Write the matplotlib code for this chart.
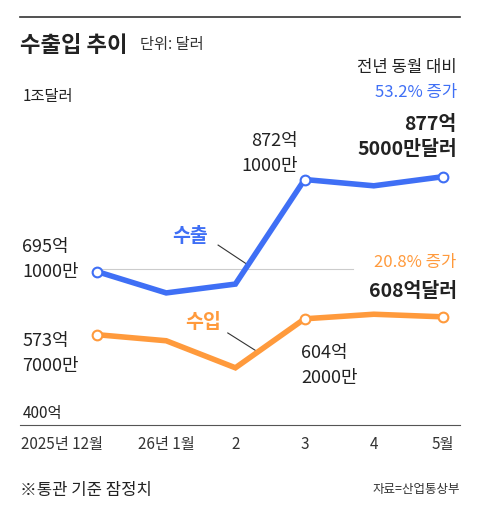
import matplotlib.pyplot as plt

plt.rcParams['font.family'] = ['Noto Sans CJK KR', 'DejaVu Sans']

months = ['2025년 12월', '26년 1월', '2', '3', '4', '5월']
export = [695.1, 654, 671, 872.1, 860, 877.5]
imports = [573.7, 562, 510, 604.2, 613, 608]

blue = '#3f6ff5'
orange = '#ff9a3c'

fig = plt.figure(figsize=(4.8, 5.2), dpi=100)
ax = fig.add_axes([20/480, 95/520, 440/480, 312/520])
x = list(range(len(months)))
ax.set_xlim(-77/69.2, 5 + 17/69.2)
ax.set_ylim(400, 1000)

ax.plot([0, 3.7], [700, 700], color='#cccccc', lw=0.8)

ax.plot(x, export, color=blue, lw=4, solid_joinstyle='miter', zorder=3)
ax.plot(x, imports, color=orange, lw=4, solid_joinstyle='miter', zorder=3)
for i in (0, 3, 5):
    ax.plot(i, export[i], 'o', ms=7, mfc='white', mec=blue, mew=1.5, zorder=4)
    ax.plot(i, imports[i], 'o', ms=7, mfc='white', mec=orange, mew=1.5, zorder=4)

for s in ['top', 'right', 'left']:
    ax.spines[s].set_visible(False)
ax.spines['bottom'].set_color('#555555')
ax.set_yticks([])
ax.set_xticks([])
for i, m in enumerate(months):
    xi = -0.5 if i == 0 else i
    ax.text(xi, 362, m, fontsize=11, color='#333333', ha='center', va='center', clip_on=False)

dk = '#222222'
ax.text(-1.08, 1031, '1조달러', fontsize=11, color=dk, va='center', clip_on=False)
ax.text(-1.08, 423, '400억', fontsize=11, color=dk, va='center')
ax.text(-1.08, 719, '695억\n1000만', fontsize=13, color=dk, va='center', linespacing=1.5)
ax.text(-1.08, 538, '573억\n7000만', fontsize=13, color=dk, va='center', linespacing=1.5)
ax.text(2.9, 923, '872억\n1000만', fontsize=13, color=dk, ha='right', va='center', linespacing=1.5)
ax.text(2.95, 515, '604억\n2000만', fontsize=13, color=dk, ha='left', va='center', linespacing=1.5)

ax.text(1.34, 763, '수출', fontsize=14, color=blue, fontweight='bold', ha='center', va='center')
ax.plot([1.75, 2.18], [746, 708], color='#333333', lw=0.8)
ax.text(1.53, 598, '수입', fontsize=14, color=orange, fontweight='bold', ha='center', va='center')
ax.plot([1.89, 2.33], [577, 540], color='#333333', lw=0.8)

ax.text(5.2, 1088, '전년 동월 대비', fontsize=12, color=dk, ha='right', va='center', clip_on=False)
ax.text(5.2, 1040, '53.2% 증가', fontsize=12, color=blue, ha='right', va='center', clip_on=False)
ax.text(5.2, 954, '877억\n5000만달러', fontsize=14, color=dk, fontweight='bold', ha='right', va='center', linespacing=1.4)
ax.text(5.2, 713, '20.8% 증가', fontsize=12, color=orange, ha='right', va='center')
ax.text(5.2, 656, '608억달러', fontsize=14, color=dk, fontweight='bold', ha='right', va='center')

fig.add_artist(plt.Line2D([20/480, 460/480], [503/520, 503/520], color='#333333', lw=1.2))
fig.text(20/480, 475/520, '수출입 추이', fontsize=16, fontweight='bold', color=dk, va='center')
fig.text(140/480, 475/520, '단위: 달러', fontsize=11, color='#333333', va='center')
fig.text(20/480, 30/520, '※통관 기준 잠정치', fontsize=12, color=dk, va='center')
fig.text(460/480, 30/520, '자료=산업통상부', fontsize=9, color='#333333', va='center', ha='right')

fig.savefig('out.png', dpi=100)
